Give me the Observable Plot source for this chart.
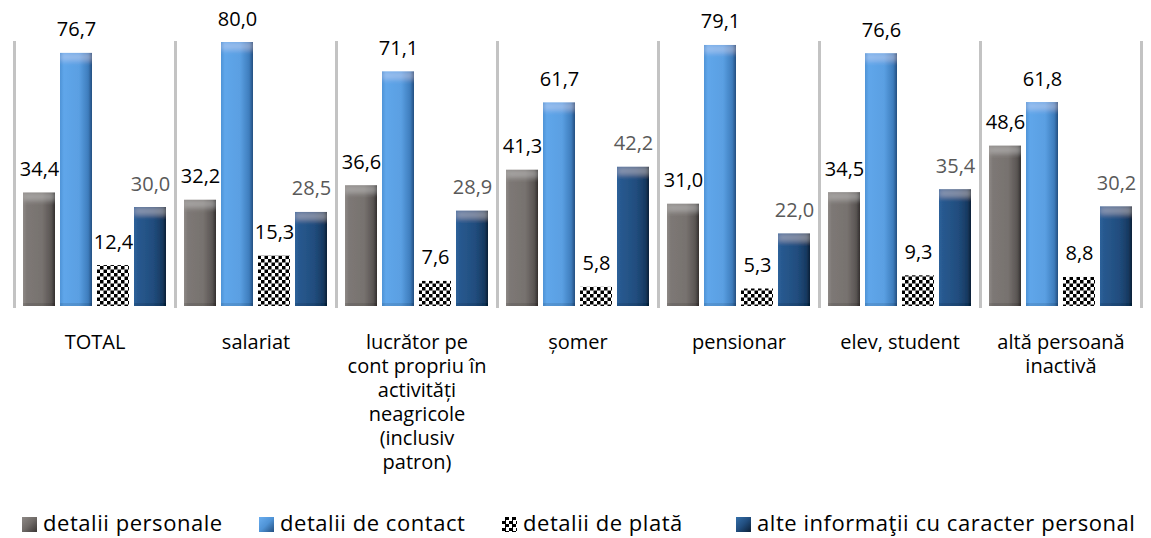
<!DOCTYPE html>
<html>
<head>
<meta charset="utf-8">
<script src="https://cdn.jsdelivr.net/npm/d3@7"></script>
<script src="https://cdn.jsdelivr.net/npm/@observablehq/plot@0.6"></script>
<style>
  body { margin: 0; background: #fff; font-family: "Open Sans", sans-serif; }
  #wrap { position: relative; width: 1151px; height: 538px; overflow: hidden; }
  #chart { position: absolute; left: 0; top: 0; }
  .leg { position: absolute; top: 511px; font-size: 22px; line-height: 22px; letter-spacing: 0.55px; color: #000; white-space: nowrap; display: flex; align-items: center; }
  .sw { width: 15px; height: 15px; margin-right: 6px; box-sizing: border-box; margin-top: 5px; }
</style>
</head>
<body>
<div id="wrap">
  <div id="chart"></div>
</div>
<script>
const groups = [
  "TOTAL",
  "salariat",
  "lucrător pe\ncont propriu în\nactivități\nneagricole\n(inclusiv\npatron)",
  "șomer",
  "pensionar",
  "elev, student",
  "altă persoană\ninactivă"
];
const series = ["detalii personale", "detalii de contact", "detalii de plată", "alte informaţii cu caracter personal"];
const personale = [34.4, 32.2, 36.6, 41.3, 31.0, 34.5, 48.6];
const contact   = [76.7, 80.0, 71.1, 61.7, 79.1, 76.6, 61.8];
const plata     = [12.4, 15.3, 7.6, 5.8, 5.3, 9.3, 8.8];
const alte      = [30.0, 28.5, 28.9, 42.2, 22.0, 35.4, 30.2];
const seriesValues = [personale, contact, plata, alte];

const fills = ["url(#gGrey)", "url(#gLight)", "url(#chk)", "url(#gDark)"];
const labelColors = ["#000000", "#000000", "#000000", "#595959"];

const data = [];
groups.forEach((g, i) => series.forEach((s, j) => data.push({group: g, series: s, si: j, value: seriesValues[j][i]})));
const fmt = v => v.toFixed(1).replace(".", ",");

const H = 500;
const marks = [
  Plot.frame({anchor: "left", stroke: "#c3c3c3", strokeWidth: 3}),
  Plot.frame({anchor: "right", stroke: "#c3c3c3", strokeWidth: 3})
];
series.forEach((s, j) => {
  const sub = data.filter(d => d.si === j);
  marks.push(Plot.barY(sub, {fx: "group", x: "series", y: "value", fill: fills[j],
    imageFilter: j === 2 ? undefined : "url(#bevel)"}));
  marks.push(Plot.text(sub, {fx: "group", x: "series", y: "value", text: d => fmt(d.value),
    lineAnchor: "bottom", dy: -17, fill: labelColors[j], fontSize: 20}));
});
marks.push(Plot.text(groups, {fx: d => d, text: d => d, frameAnchor: "bottom", lineAnchor: "top",
  dy: 25, lineHeight: 1.2, fontSize: 20, fill: "#000"}));

const svg = Plot.plot({
  width: 1151, height: H,
  marginLeft: 12, marginRight: 8, marginTop: 42, marginBottom: H - 306,
  style: {fontFamily: "'Open Sans', sans-serif", background: "transparent"},
  fx: {domain: groups, padding: 0, axis: null},
  x: {domain: series, paddingInner: 0.13, paddingOuter: 0.184, axis: null},
  y: {domain: [0, 80], axis: null},
  marks
});

const defs = `
<defs>
  <linearGradient id="gGrey" x1="0" x2="1" y1="0" y2="0">
    <stop offset="0" stop-color="#8e8986"/>
    <stop offset="0.12" stop-color="#7d7875"/>
    <stop offset="0.6" stop-color="#77726f"/>
    <stop offset="0.88" stop-color="#5a5553"/>
    <stop offset="1" stop-color="#332f2e"/>
  </linearGradient>
  <linearGradient id="gLight" x1="0" x2="1" y1="0" y2="0">
    <stop offset="0" stop-color="#4f93d6"/>
    <stop offset="0.12" stop-color="#5fa6ea"/>
    <stop offset="0.6" stop-color="#5a9fe2"/>
    <stop offset="0.88" stop-color="#3e7dbd"/>
    <stop offset="1" stop-color="#224f80"/>
  </linearGradient>
  <linearGradient id="gDark" x1="0" x2="1" y1="0" y2="0">
    <stop offset="0" stop-color="#2d619a"/>
    <stop offset="0.12" stop-color="#28598f"/>
    <stop offset="0.6" stop-color="#214d7e"/>
    <stop offset="0.88" stop-color="#173a62"/>
    <stop offset="1" stop-color="#0b1f36"/>
  </linearGradient>
  <pattern id="chk" width="7" height="7" patternUnits="userSpaceOnUse">
    <rect width="7" height="7" fill="#ffffff"/>
    <rect width="3.5" height="3.5" fill="#000000"/>
    <rect x="3.5" y="3.5" width="3.5" height="3.5" fill="#000000"/>
  </pattern>
  <filter id="bevel" x="-5%" y="-5%" width="110%" height="110%">
    <feOffset in="SourceAlpha" dy="8" result="offT"/>
    <feComposite in="SourceAlpha" in2="offT" operator="out" result="topBand"/>
    <feGaussianBlur in="topBand" stdDeviation="2.5" result="topBlur"/>
    <feComposite in="topBlur" in2="SourceAlpha" operator="in" result="topClip"/>
    <feFlood flood-color="#ffffff" flood-opacity="0.22"/>
    <feComposite in2="topClip" operator="in" result="topHi"/>
    <feOffset in="SourceAlpha" dy="-3" result="offB"/>
    <feComposite in="SourceAlpha" in2="offB" operator="out" result="botBand"/>
    <feFlood flood-color="#000000" flood-opacity="0.2"/>
    <feComposite in2="botBand" operator="in" result="botSh"/>
    <feMerge><feMergeNode in="SourceGraphic"/><feMergeNode in="topHi"/><feMergeNode in="botSh"/></feMerge>
  </filter>
</defs>`;
svg.insertAdjacentHTML("afterbegin", defs);
document.getElementById("chart").appendChild(svg);

// legend
const wrap = document.getElementById("wrap");
const legX = [22, 259, 502, 736];
const swBg = [
  "linear-gradient(135deg,#8e8986 0%,#6f6a67 50%,#3a3634 100%)",
  "linear-gradient(135deg,#6aaef0 0%,#4f93d6 50%,#234f80 100%)",
  "repeating-conic-gradient(#000 0 25%, #fff 0 50%) 0 0/7px 7px",
  "linear-gradient(135deg,#3570aa 0%,#214d7e 50%,#0b1f36 100%)"
];
series.forEach((s, j) => {
  const it = document.createElement("div");
  it.className = "leg";
  it.style.left = legX[j] + "px";
  const sw = document.createElement("span");
  sw.className = "sw";
  sw.style.background = swBg[j];
  const tx = document.createElement("span");
  tx.textContent = s;
  it.appendChild(sw);
  it.appendChild(tx);
  wrap.appendChild(it);
});
</script>
</body>
</html>
